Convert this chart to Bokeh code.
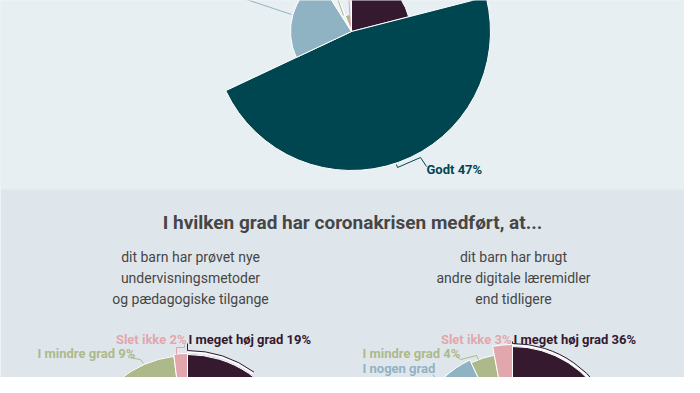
import math
from bokeh.plotting import figure
from bokeh.models import ColumnDataSource
from bokeh.core.properties import value
from bokeh.embed import file_html
from bokeh.resources import INLINE

# ---------------- data ----------------
top_cats = ["Meget godt", "Godt", "Mindre godt", "Ved ikke", "Dårligt", "Meget dårligt"]
top_vals = [21, 47, 23, 3, 5, 1]
top_z = [59, 139, 61, 45, 17, 8]          # variable-pie radius per slice
top_colors = ["#35192f", "#004651", "#90b3c4", "#eef3f6", "#adb98b", "#e2a6ad"]

cats = ["I meget høj grad", "I høj grad", "I nogen grad", "I mindre grad", "Slet ikke"]
cat_colors = ["#35192f", "#004651", "#90b3c4", "#adb98b", "#e2a6ad"]
left_vals = [19, 38, 32, 9, 2]
right_vals = [36, 37, 20, 4, 3]
left_z = [109, 109, 108, 108, 110]
right_z = [104, 104, 100, 97, 106]

main_title = "I hvilken grad har coronakrisen medført, at..."
left_sub = ["dit barn har prøvet nye", "undervisningsmetoder", "og pædagogiske tilgange"]
right_sub = ["dit barn har brugt", "andre digitale læremidler", "end tidligere"]

W, H = 684, 377
def Y(yr):
    return 393 - yr

p = figure(width=W, height=H, x_range=(0, W), y_range=(8, 385),
           output_backend="svg", toolbar_location=None, min_border=0)
p.axis.visible = False
p.grid.visible = False
p.outline_line_color = None
p.background_fill_color = "#dfe6eb"
p.border_fill_color = "#dfe6eb"

# top band background
p.quad(left=[-10], right=[710], bottom=[Y(197)], top=[Y(-10)], fill_color="#e8eff3", line_color=None)

def pie(cx, cy, vals, radii, colors):
    total = float(sum(vals))
    cum = 0.0
    xs, ys, rs, sa, ea, cs = [], [], [], [], [], []
    for v, r, c in zip(vals, radii, colors):
        t1 = cum / total * 360.0
        cum += v
        t2 = cum / total * 360.0
        xs.append(cx); ys.append(cy); rs.append(r)
        sa.append(math.radians(90 - t2)); ea.append(math.radians(90 - t1)); cs.append(c)
    src = ColumnDataSource(dict(x=xs, y=ys, r=rs, s=sa, e=ea, c=cs))
    p.wedge(x="x", y="y", radius="r", start_angle="s", end_angle="e", fill_color="c",
            line_color="white", line_width=1, source=src)

# ---------- top pie ----------
tcx, tcy = 351, Y(39)
pie(tcx, tcy, top_vals, top_z, top_colors)

# connectors of top pie
p.line([291, 225, 205], [Y(22), Y(0), Y(-6)], line_color="#90b3c4", line_width=1)
p.line([343, 335, 332], [Y(23), Y(0), Y(-8)], line_color="#adb98b", line_width=1)
p.line([350, 348, 347], [Y(33), Y(0), Y(-8)], line_color="#e2a6ad", line_width=1)
p.line([396, 397, 420, 426], [Y(172), Y(175), Y(165), Y(174)], line_color="#004651", line_width=1)
p.text([426], [Y(177)], text=[f"{top_cats[1]} {top_vals[1]}%"], text_align="left", text_baseline="middle",
       text_font=value("Roboto"), text_font_size="13px", text_font_style="bold", text_color="#004651")

# ---------- titles ----------
p.text([352], [Y(230)], text=[main_title], text_align="center", text_baseline="middle",
       text_font=value("Roboto"), text_font_size="19px", text_font_style="bold", text_color="#464646")
for i, (ls, rs_) in enumerate(zip(left_sub, right_sub)):
    yy = Y(264 + 21 * i)
    p.text([190], [yy], text=[ls], text_align="center", text_baseline="middle",
           text_font=value("Roboto"), text_font_size="14px", text_color="#464646")
    p.text([513], [yy], text=[rs_], text_align="center", text_baseline="middle",
           text_font=value("Roboto"), text_font_size="14px", text_color="#464646")

# ---------- bottom pies ----------
lcx, lcy = 187, Y(471)
rcx, rcy = 512, Y(458)
pie(lcx, lcy, left_vals, left_z, cat_colors)
pie(rcx, rcy, right_vals, right_z, cat_colors)

# arcs around the "I meget høj grad" slices
def arc_conn(cx, cy, r, deg):
    p.arc(x=[cx], y=[cy], radius=r - 1.8, start_angle=math.radians(90 - deg), end_angle=math.radians(90),
          line_color="white", line_width=1.5)
    p.arc(x=[cx], y=[cy], radius=r, start_angle=math.radians(90 - deg), end_angle=math.radians(90),
          line_color="#35192f", line_width=1)

arc_conn(lcx, lcy, 113, 36)
p.line([187, 187], [Y(351), Y(358)], line_color="#35192f", line_width=1)
arc_conn(rcx, rcy, 107, 70)
p.line([512, 512], [Y(349), Y(351)], line_color="#35192f", line_width=1)

# other connectors
p.line([176, 176, 184, 184], [Y(362), Y(355), Y(355), Y(352)], line_color="#e2a6ad", line_width=1)
p.line([501, 501, 511, 511], [Y(363), Y(356), Y(356), Y(352)], line_color="#e2a6ad", line_width=1)
p.line([128, 140, 143], [Y(365), Y(367), Y(371)], line_color="#adb98b", line_width=1)
p.line([455, 460, 476, 478], [Y(363), Y(367), Y(363), Y(367)], line_color="#adb98b", line_width=1)
p.line([432, 437, 435], [Y(382), Y(387), Y(395)], line_color="#90b3c4", line_width=1)

def lab(x, yr, txt, align, color):
    p.text([x], [Y(yr)], text=[txt], text_align=align, text_baseline="middle",
           text_font=value("Roboto"), text_font_size="13px", text_font_style="bold", text_color=color)

lab(188, 347, f"{cats[0]} {left_vals[0]}%", "left", cat_colors[0])
lab(186, 347, f"{cats[4]} {left_vals[4]}%", "right", cat_colors[4])
lab(37, 361, f"{cats[3]} {left_vals[3]}%", "left", cat_colors[3])

lab(513, 347, f"{cats[0]} {right_vals[0]}%", "left", cat_colors[0])
lab(511, 347, f"{cats[4]} {right_vals[4]}%", "right", cat_colors[4])
lab(362, 361, f"{cats[3]} {right_vals[3]}%", "left", cat_colors[3])
lab(362, 376, f"{cats[2]}", "left", cat_colors[2])

open("out.html", "w").write(file_html(p, INLINE))
